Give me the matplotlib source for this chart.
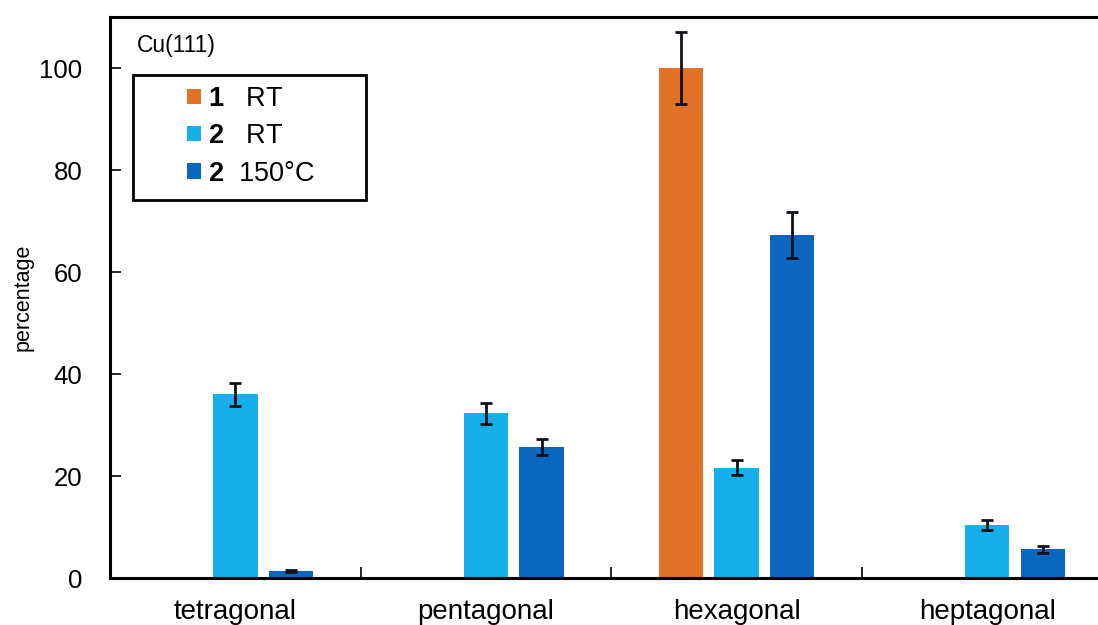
import numpy as np
import matplotlib.pyplot as plt
from matplotlib.patches import Rectangle

plt.rcParams["font.family"] = ["Liberation Sans", "DejaVu Sans"]
plt.rcParams["mathtext.fontset"] = "custom"
plt.rcParams["mathtext.rm"] = "Liberation Sans"
plt.rcParams["mathtext.bf"] = "Liberation Sans:bold"

categories = ["tetragonal", "pentagonal", "hexagonal", "heptagonal"]
s1_rt = [0, 0, 100.0, 0]
s1_rt_err = [0, 0, 7.0, 0]
s2_rt = [36.0, 32.3, 21.6, 10.4]
s2_rt_err = [2.2, 2.1, 1.5, 0.9]
s2_150 = [1.4, 25.7, 67.2, 5.6]
s2_150_err = [0.2, 1.6, 4.5, 0.7]

fig = plt.figure(figsize=(10.98, 6.25), dpi=100)
ax = fig.add_axes([0.1002, 0.0752, 0.913, 0.8976])

x = np.arange(len(categories))
w = 0.177
off = 0.222
ek = dict(ecolor="#10101a", elinewidth=2, capsize=4, capthick=2)

mask1 = [v > 0 for v in s1_rt]
ax.bar(x[mask1] - off, np.array(s1_rt)[mask1], w, yerr=np.array(s1_rt_err)[mask1],
       color="#E07126", error_kw=ek, label=r"$\mathbf{1}$   RT")
ax.bar(x, s2_rt, w, yerr=s2_rt_err, color="#15B0EC", error_kw=ek,
       label=r"$\mathbf{2}$   RT")
ax.bar(x + off, s2_150, w, yerr=s2_150_err, color="#0A66BE", error_kw=ek,
       label=r"$\mathbf{2}$  150°C")

ax.set_xlim(-0.5, len(categories) - 0.5)
ax.set_ylim(0, 110)
ax.set_yticks([0, 20, 40, 60, 80, 100])
ax.set_xticks(x)
ax.set_xticklabels(categories)
ax.set_xticks(np.arange(0.5, len(categories) - 0.5, 1), minor=True)
ax.tick_params(axis="x", which="major", length=0, pad=15, labelsize=20)
ax.tick_params(axis="x", which="minor", length=8, width=1.2, direction="in")
ax.tick_params(axis="y", length=8, width=1.2, direction="in", labelsize=18.5, pad=20)
ax.set_ylabel("percentage", fontsize=15.5, labelpad=4)

for s in ax.spines.values():
    s.set_linewidth(2.2)

ax.text(0.027, 0.97, "Cu(111)", transform=ax.transAxes, fontsize=16.5, va="top")
ax.add_patch(Rectangle((0.023, 0.674), 0.2325, 0.223, transform=ax.transAxes,
                       fill=False, edgecolor="black", linewidth=2, zorder=5))
leg = ax.legend(loc="upper left", bbox_to_anchor=(0.077, 0.877), fontsize=19.5,
                frameon=False, handlelength=0.5, handleheight=0.5,
                handletextpad=0.25, labelspacing=0.42, borderpad=0, borderaxespad=0)

fig.savefig("out.png", dpi=100)
